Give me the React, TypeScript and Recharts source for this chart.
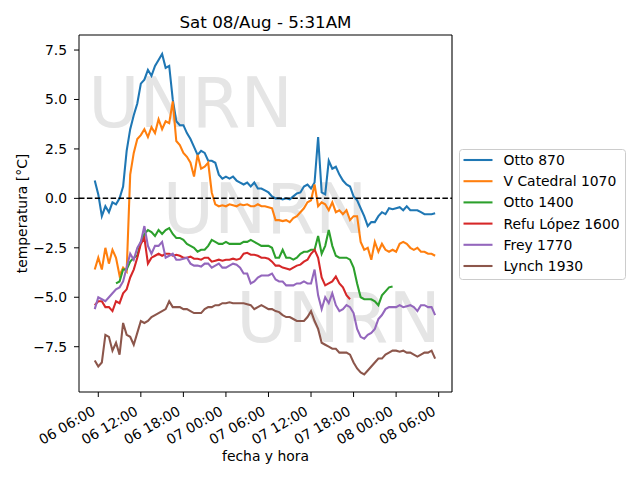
import React from "react";
import { LineChart, Line, XAxis, YAxis, ReferenceLine } from "recharts";

const FONT = "DejaVu Sans, sans-serif";

// hours since 06/Aug 00:00, one reading every 30 minutes
const hours = Array.from({ length: 97 }, (_, i) => 5.5 + i * 0.5);
const xTicks = [6, 12, 18, 24, 30, 36, 42, 48, 54];
const yTicks = [-7.5, -5, -2.5, 0, 2.5, 5, 7.5];

const otto870 = [
  0.9, 0.2, -0.9, -0.4, -0.7, -0.2, -0.3, 0.0, 0.6, 2.4,
  3.5, 4.2, 4.8, 5.8, 6.0, 6.5, 6.2, 6.7, 7.0, 7.3,
  6.6, 6.7, 5.0, 3.9, 3.7, 3.7, 3.3, 3.0, 2.6, 2.2,
  2.4, 2.3, 1.9, 1.9, 1.8, 1.2, 1.0, 1.1, 1.0, 1.1,
  0.9, 0.8, 0.7, 0.8, 0.6, 0.8, 0.5, 0.5, 0.4, 0.3,
  0.1, 0.0, 0.0, -0.05, 0.0, -0.05, 0.1, 0.25, 0.3, 0.6,
  0.7, 0.5, 0.8, 3.1, 0.3, 0.2, 1.9, 1.5, 1.6, 1.2,
  0.9, 0.7, 0.6, 0.1, -0.1, -0.5, -0.9, -1.4, -1.2, -1.2,
  -0.9, -0.7, -0.8, -0.5, -0.55, -0.5, -0.45, -0.6, -0.4, -0.6,
  -0.6, -0.6, -0.7, -0.8, -0.8, -0.8, -0.75,
];
const vCatedral1070 = [
  -3.6, -3.0, -3.6, -2.5, -3.3, -2.6, -3.0, -3.9, -3.5, -3.7,
  1.2, 2.3, 3.0, 3.2, 3.5, 3.1, 3.6, 3.3, 4.0, 3.5,
  3.9, 3.8, 4.9, 2.9, 2.7, 2.3, 2.1, 1.8, 1.1, 2.2,
  1.5, 1.6, 1.8, 0.3, -0.3, -0.4, -0.35, -0.4, -0.3, -0.35,
  -0.4, -0.3, -0.35, -0.3, -0.4, -0.4, -0.3, -0.4, -0.4, -0.45,
  -0.5, -1.1, -1.1, -1.15, -1.1, -1.2, -1.0, -0.9, -0.7, -0.5,
  -0.2, -0.1, 0.7, -0.4, -0.2, -0.3, -0.6, -0.2, -0.7, -0.6,
  -0.8, -0.6, -1.1, -0.9, -0.9, -2.2, -2.6, -2.5, -3.1, -2.2,
  -2.7, -2.3, -2.6, -2.7, -2.6, -2.7, -2.3, -2.2, -2.3, -2.5,
  -2.6, -2.5, -2.7, -2.7, -2.8, -2.8, -2.9,
];
const otto1400 = [
  null, null, null, null, null, null, -4.3, -4.2, -3.6, -3.6,
  -3.2, -3.0, -2.9, -2.2, -1.8, -1.6, -1.7, -1.9, -1.6, -1.8,
  -1.6, -1.5, -1.8, -2.0, -2.0, -2.1, -2.3, -2.4, -2.5, -2.7,
  -2.6, -2.6, -2.4, -2.1, -2.2, -2.3, -2.3, -2.2, -2.3, -2.3,
  -2.3, -2.3, -2.2, -2.2, -2.1, -2.2, -2.3, -2.4, -2.4, -2.4,
  -2.5, -3.0, -3.0, -2.6, -3.0, -3.0, -3.1, -3.0, -2.8, -2.7,
  -2.7, -2.6, -2.6, -1.9, -2.8, -2.4, -1.6, -2.4, -2.9, -3.0,
  -3.0, -3.0, -3.1, -3.5, -4.3, -5.0, -5.1, -5.1, -5.1, -5.2,
  -5.4, -4.9, -4.7, -4.5, -4.45, null, null, null, null, null,
  null, null, null, null, null, null, null,
];
const refuLopez1600 = [
  -5.4, -5.2, -5.2, -5.5, -5.5, -5.7, -5.2, -5.3, -4.8, -4.6,
  -4.0, -3.6, -3.0, -2.3, -2.0, -3.3, -3.0, -2.9, -2.8, -2.9,
  -2.8, -2.8, -2.9, -2.85, -2.9, -3.0, -3.0, -2.95, -3.05, -3.05,
  -3.1, -3.0, -3.0, -3.2, -3.15, -3.1, -3.15, -3.1, -3.1, -3.05,
  -3.1, -3.05, -2.8, -2.75, -2.85, -2.85, -2.9, -3.0, -3.0, -3.05,
  -3.2, -3.4, -3.4, -3.5, -3.55, -3.6, -3.5, -3.4, -3.35, -3.2,
  -3.1, -2.8, -2.6, -3.0, -4.0, -4.4, -4.3, -4.2, -3.95, -4.3,
  -4.5, -4.9, -5.1, null, null, null, null, null, null, null,
  null, null, null, null, null, null, null, null, null, null,
  null, null, null, null, null, null, null,
];
const frey1770 = [
  -5.6, -5.0, -5.1, -5.2, -5.0, -4.8, -4.6, -4.5, -4.2, -3.5,
  -2.8, -3.1, -2.5, -2.2, -1.4, -2.4, -2.8, -2.4, -2.4, -2.2,
  -3.0, -2.9, -2.8, -3.1, -3.1, -3.05, -3.0, -3.3, -3.4, -3.4,
  -3.45, -3.3, -3.3, -3.5, -3.4, -3.3, -3.5, -3.5, -3.4, -3.3,
  -3.35, -3.5, -3.8, -3.8, -4.3, -4.2, -4.0, -3.9, -3.9, -3.9,
  -3.8, -4.1, -4.2, -4.2, -4.4, -4.4, -4.4, -4.3, -4.3, -4.2,
  -4.3, -4.3, -3.6, -4.9, -5.6, -5.0, -5.3, -4.8, -5.4, -5.7,
  -5.6, -5.4, -5.5, -5.8, -6.6, -7.0, -7.1, -6.9, -6.8, -6.6,
  -6.1, -5.9, -5.6, -5.5, -5.5, -5.5, -5.4, -5.5, -5.45, -5.4,
  -5.5, -5.7, -5.4, -5.4, -5.5, -5.5, -5.9,
];
const lynch1930 = [
  -8.2, -8.5, -8.3, -6.9, -7.0, -7.7, -7.3, -7.9, -6.3, -6.9,
  -7.0, -7.4, -6.8, -6.2, -6.3, -6.2, -6.0, -5.9, -5.8, -5.7,
  -5.6, -5.2, -5.5, -5.5, -5.5, -5.6, -5.6, -5.7, -5.8, -5.8,
  -5.8, -5.6, -5.5, -5.5, -5.4, -5.4, -5.3, -5.3, -5.25, -5.3,
  -5.3, -5.3, -5.3, -5.35, -5.4, -5.6, -5.5, -5.4, -5.5, -5.6,
  -5.6, -5.7, -5.75, -5.9, -6.0, -6.0, -6.1, -6.2, -6.2, -6.2,
  -6.0, -5.7, -6.2, -6.6, -7.3, -7.4, -7.5, -7.6, -7.6, -7.8,
  -7.8, -7.8, -7.9, -8.3, -8.6, -8.8, -8.9, -8.7, -8.5, -8.3,
  -8.1, -8.1, -7.9, -7.8, -7.7, -7.7, -7.75, -7.7, -7.8, -7.8,
  -7.9, -8.0, -7.9, -7.8, -7.8, -7.7, -8.1,
];

const series = [
  { key: "otto870", name: "Otto 870", color: "#1f77b4", values: otto870 },
  { key: "vcat1070", name: "V Catedral 1070", color: "#ff7f0e", values: vCatedral1070 },
  { key: "otto1400", name: "Otto 1400", color: "#2ca02c", values: otto1400 },
  { key: "refu1600", name: "Refu López 1600", color: "#d62728", values: refuLopez1600 },
  { key: "frey1770", name: "Frey 1770", color: "#9467bd", values: frey1770 },
  { key: "lynch1930", name: "Lynch 1930", color: "#8c564b", values: lynch1930 },
];

const data = hours.map((t, i) => {
  const row: Record<string, number | null> = { t };
  series.forEach((s) => {
    row[s.key] = s.values[i];
  });
  return row;
});

const X_DOMAIN: [number, number] = [3.28, 55.88];
const Y_DOMAIN: [number, number] = [-9.79, 8.26];

const fmtX = (h: number) => {
  const day = 6 + Math.floor(h / 24);
  const hh = h % 24;
  return `0${day} ${String(hh).padStart(2, "0")}:00`;
};
const fmtY = (v: number) => v.toFixed(1).replace("-", "\u2212");

const XTick = ({ x, y, payload }: any) => {
  const tx = x - 2;
  const ty = y + 17;
  return (
    <text
      x={tx}
      y={ty}
      transform={`rotate(-30, ${tx}, ${ty})`}
      textAnchor="end"
      fontSize={13.9}
      fontFamily={FONT}
      fill="#000"
    >
      {fmtX(payload.value)}
    </text>
  );
};

const watermarks = [
  { x: 190.5, y: 127 },
  { x: 265, y: 233 },
  { x: 338.5, y: 342 },
];

const App: React.FC = () => {
  return (
    <div
      style={{
        position: "absolute",
        left: 0,
        top: 0,
        width: 640,
        height: 480,
        background: "#fff",
        fontFamily: FONT,
      }}
    >
      <svg width={640} height={480} style={{ position: "absolute", left: 0, top: 0 }}>
        {watermarks.map((w, i) => (
          <text key={i} x={w.x} y={w.y} textAnchor="middle" fontSize={70} fontFamily={FONT} fill="#e5e5e5">
            UNRN
          </text>
        ))}
        <text x={265.5} y={27.5} textAnchor="middle" fontSize={16.7} fontFamily={FONT} fill="#000">
          Sat 08/Aug - 5:31AM
        </text>
        <text x={265.5} y={461} textAnchor="middle" fontSize={13.9} fontFamily={FONT} fill="#000">
          fecha y hora
        </text>
        <text
          x={27}
          y={213.5}
          transform="rotate(-90, 27, 213.5)"
          textAnchor="middle"
          fontSize={13.9}
          fontFamily={FONT}
          fill="#000"
        >
          temperatura [°C]
        </text>
      </svg>

      <div style={{ position: "absolute", left: 0, top: 0 }}>
        <LineChart width={640} height={480} data={data} margin={{ top: 35, right: 188, bottom: 0, left: 0 }}>
          <XAxis
            dataKey="t"
            type="number"
            domain={X_DOMAIN}
            allowDataOverflow
            ticks={xTicks}
            interval={0}
            height={88}
            stroke="#000"
            tickSize={5}
            tickMargin={0}
            tick={<XTick />}
          />
          <YAxis
            type="number"
            domain={Y_DOMAIN}
            allowDataOverflow
            ticks={yTicks}
            interval={0}
            width={79}
            stroke="#000"
            tickSize={5}
            tickMargin={7}
            tickFormatter={fmtY}
            tick={{ fill: "#000", fontSize: 13.9, fontFamily: FONT }}
          />
          {series.map((s) => (
            <Line
              key={s.key}
              type="linear"
              dataKey={s.key}
              name={s.name}
              stroke={s.color}
              strokeWidth={2.08}
              dot={false}
              isAnimationActive={false}
            />
          ))}
          <ReferenceLine y={0} stroke="#000" strokeWidth={1.5} strokeDasharray="5.5 2.4" />
          <ReferenceLine y={Y_DOMAIN[1]} stroke="#000" strokeWidth={1.1} />
          <ReferenceLine x={X_DOMAIN[1]} stroke="#000" strokeWidth={1.1} />
        </LineChart>
      </div>

      <svg width={167} height={131} style={{ position: "absolute", left: 459, top: 149 }}>
        <rect x={0.5} y={0.5} width={166} height={130} rx={3} fill="#fff" fillOpacity={0.8} stroke="#cccccc" />
        {series.map((s, i) => {
          const cy = 11 + i * 21.2;
          return (
            <g key={s.key}>
              <line x1={4.5} x2={33.5} y1={cy} y2={cy} stroke={s.color} strokeWidth={2.08} />
              <text x={44.5} y={cy + 5} fontSize={13.9} fontFamily={FONT} fill="#000">
                {s.name}
              </text>
            </g>
          );
        })}
      </svg>
    </div>
  );
};

export default App;
